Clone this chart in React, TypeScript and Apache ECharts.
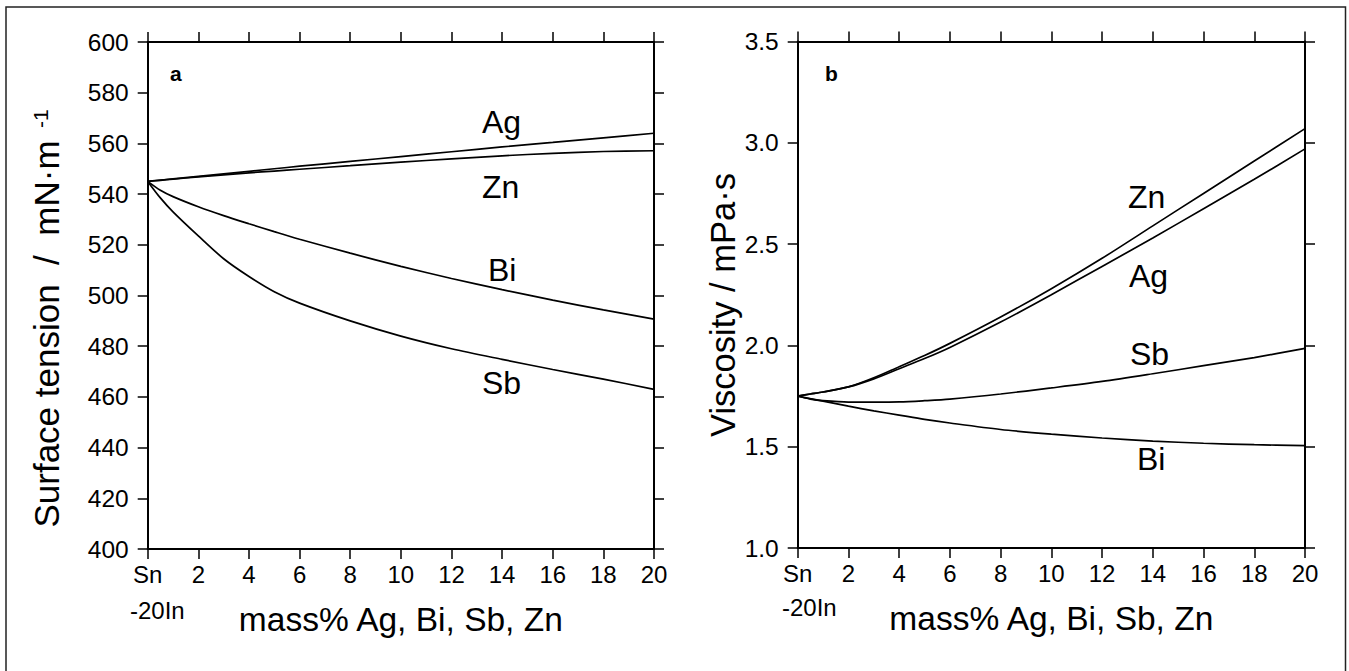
import React, { useEffect, useRef } from "react";
import * as echarts from "echarts";

// composition (mass%) at which values were read
const X = [0, 0.5, 1, 2, 3, 4, 5, 6, 8, 10, 12, 14, 16, 18, 20];

// (a) surface tension, mN/m
const stAg = [545, 545.5, 546, 547, 548, 549, 550, 551, 552.9, 554.8, 556.7, 558.6, 560.4, 562.2, 564];
const stZn = [545, 545.45, 545.9, 546.8, 547.6, 548.4, 549.1, 549.8, 551.2, 552.6, 553.9, 555.1, 556.1, 556.8, 557.1];
const stBi = [545, 541.5, 539, 535, 531.5, 528.3, 525.2, 522.2, 516.7, 511.5, 506.7, 502.3, 498.2, 494.3, 490.7];
const stSb = [545, 538.5, 533, 523.5, 514.5, 507.5, 501.5, 497, 490, 484, 479, 474.8, 470.8, 467, 463];

// (b) viscosity, mPa·s
const vZn = [1.75, 1.76, 1.77, 1.795, 1.84, 1.895, 1.95, 2.01, 2.14, 2.28, 2.43, 2.59, 2.75, 2.91, 3.07];
const vAg = [1.75, 1.76, 1.77, 1.795, 1.835, 1.885, 1.935, 1.99, 2.115, 2.25, 2.39, 2.53, 2.675, 2.82, 2.97];
const vSb = [1.75, 1.735, 1.727, 1.72, 1.72, 1.721, 1.727, 1.735, 1.76, 1.79, 1.822, 1.86, 1.9, 1.94, 1.985];
const vBi = [1.75, 1.737, 1.725, 1.7, 1.677, 1.656, 1.635, 1.617, 1.585, 1.562, 1.543, 1.528, 1.517, 1.51, 1.505];

const xTickFirst = "Sn";
const xTickSub = "-20In";
const xName = "mass% Ag, Bi, Sb, Zn";
const yNameA = "Surface tension  /  mN·m";
const yNameASup = "-1";
const yNameB = "Viscosity / mPa·s";

const FONT = "'Liberation Sans', Arial, Helvetica, sans-serif";

export default function App() {
  const ref = useRef<HTMLDivElement>(null);
  useEffect(() => {
    if (!ref.current) return;
    const chart = echarts.init(ref.current, null, { renderer: "svg" });

    const mkX = (gi: number, pos: "bottom" | "top") => ({
      type: "value",
      gridIndex: gi,
      position: pos,
      min: 0,
      max: 20,
      interval: 2,
      name: pos === "bottom" ? xName : "",
      nameLocation: "middle",
      nameGap: 53,
      nameTextStyle: { fontSize: 33.5, color: "#000", fontFamily: FONT },
      axisLine: { show: true, onZero: false, lineStyle: { color: "#000", width: 2 } },
      axisTick: { show: true, length: 10, lineStyle: { color: "#000", width: 1.5 } },
      axisLabel: {
        show: pos === "bottom",
        fontSize: 24,
        color: "#000",
        fontFamily: FONT,
        margin: 13,
        formatter: (v: number) => (v === 0 ? xTickFirst : String(v)),
      },
      splitLine: { show: false },
    });

    const mkY = (gi: number, pos: "left" | "right", min: number, max: number, interval: number, dec: number) => ({
      type: "value",
      gridIndex: gi,
      position: pos,
      min,
      max,
      interval,
      axisLine: { show: true, onZero: false, lineStyle: { color: "#000", width: 2 } },
      axisTick: { show: true, length: 10, lineStyle: { color: "#000", width: 1.5 } },
      axisLabel: {
        show: pos === "left",
        fontSize: 24.5,
        color: "#000",
        fontFamily: FONT,
        margin: 19,
        formatter: (v: number) => v.toFixed(dec),
      },
      splitLine: { show: false },
    });

    const line = (xi: number, yi: number, arr: number[]) => ({
      type: "line",
      xAxisIndex: xi,
      yAxisIndex: yi,
      data: X.map((x, i) => [x, arr[i]]),
      showSymbol: false,
      smooth: 0.3,
      lineStyle: { color: "#000", width: 1.7 },
      silent: true,
    });

    const lbl = (text: string, x: number, y: number, size = 32, weight: any = "normal") => ({
      type: "text",
      x,
      y,
      style: {
        text,
        fontSize: size,
        fontWeight: weight,
        fontFamily: FONT,
        fill: "#000",
        align: "left",
        verticalAlign: "middle",
      },
    });

    chart.setOption({
      animation: false,
      backgroundColor: "#fff",
      grid: [
        { left: 147.7, top: 42, width: 506.3, height: 507 },
        { left: 797.7, top: 41.5, width: 507.3, height: 506.5 },
      ],
      xAxis: [mkX(0, "bottom"), mkX(0, "top"), mkX(1, "bottom"), mkX(1, "top")],
      yAxis: [
        mkY(0, "left", 400, 600, 20, 0),
        mkY(0, "right", 400, 600, 20, 0),
        mkY(1, "left", 1, 3.5, 0.5, 1),
        mkY(1, "right", 1, 3.5, 0.5, 1),
      ],
      series: [
        line(0, 0, stAg),
        line(0, 0, stZn),
        line(0, 0, stBi),
        line(0, 0, stSb),
        line(2, 2, vZn),
        line(2, 2, vAg),
        line(2, 2, vSb),
        line(2, 2, vBi),
      ],
      graphic: [
        {
          type: "rect",
          shape: { x: 6, y: 7, width: 1339.5, height: 700 },
          style: { fill: "none", stroke: "#222", lineWidth: 1.5 },
          silent: true,
        },
        {
          type: "text",
          x: 46,
          y: 334,
          rotation: Math.PI / 2,
          style: { text: yNameA, fontSize: 35, fontFamily: FONT, fill: "#000", align: "center", verticalAlign: "middle" },
        },
        {
          type: "text",
          x: 40,
          y: 128,
          rotation: Math.PI / 2,
          style: { text: yNameASup, fontSize: 21, fontFamily: FONT, fill: "#000", align: "left", verticalAlign: "middle" },
        },
        {
          type: "text",
          x: 723,
          y: 305,
          rotation: Math.PI / 2,
          style: { text: yNameB, fontSize: 34.5, fontFamily: FONT, fill: "#000", align: "center", verticalAlign: "middle" },
        },
        lbl(xTickSub, 130, 610, 24),
        lbl(xTickSub, 782, 607, 24),
        lbl("a", 170, 73, 21, "bold"),
        lbl("b", 825, 73, 21, "bold"),
        lbl("Ag", 482, 122),
        lbl("Zn", 482, 187),
        lbl("Bi", 488, 270),
        lbl("Sb", 482, 383),
        lbl("Zn", 1128, 197),
        lbl("Ag", 1129, 276),
        lbl("Sb", 1130, 354),
        lbl("Bi", 1137, 459),
      ],
    });
    return () => chart.dispose();
  }, []);
  return (
    <div
      ref={ref}
      style={{ position: "fixed", left: 0, top: 0, width: 1349, height: 671, background: "#fff" }}
    />
  );
}
